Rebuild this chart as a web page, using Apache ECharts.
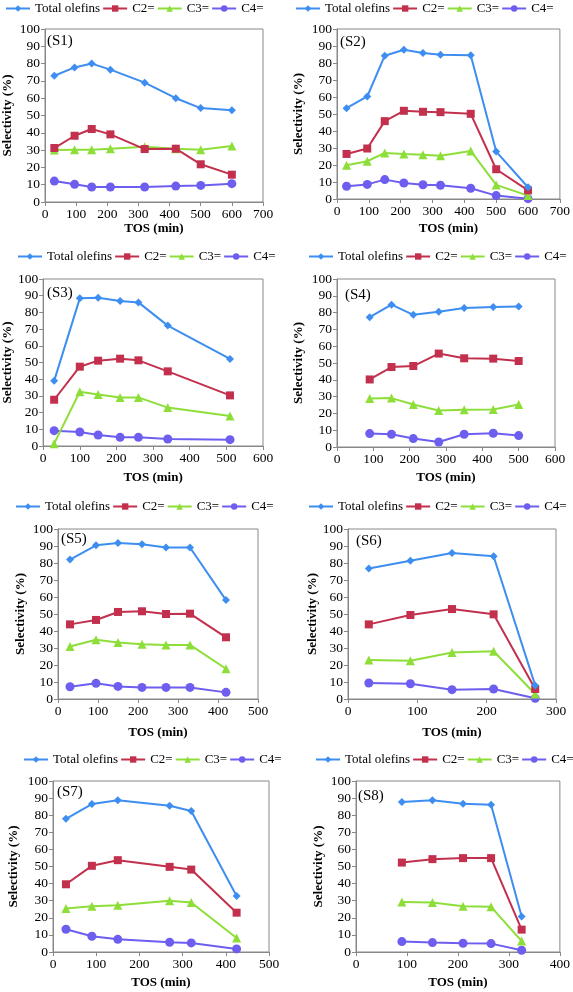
<!DOCTYPE html>
<html><head><meta charset="utf-8">
<script src="https://cdn.jsdelivr.net/npm/echarts@6/dist/echarts.min.js"></script>
<style>html,body{margin:0;padding:0;background:#fff}#c{width:573px;height:992px}</style>
</head><body><div id="c"></div>
<script>
// ---- data ----
const seriesNames = ['Total olefins', 'C2=', 'C3=', 'C4='];
const panelLabels = ['(S1)', '(S2)', '(S3)', '(S4)', '(S5)', '(S6)', '(S7)', '(S8)'];
const xAxisMax = [700, 700, 600, 600, 500, 300, 500, 400];
const yAxisMax = 100;

const S1_tos = [30, 95, 150, 210, 320, 420, 500, 600];
const S1_total = [73, 77.8, 80, 76.5, 69, 60, 54.3, 53];
const S1_c2 = [31.2, 38.3, 42.2, 39.1, 30.6, 30.8, 21.8, 15.8];
const S1_c3 = [30, 30.2, 30.2, 30.8, 32, 30.8, 30.2, 32.4];
const S1_c4 = [12.1, 10.2, 8.7, 8.7, 8.7, 9.2, 9.6, 10.6];

const S2_tos = [30, 95, 150, 210, 270, 325, 420, 500, 600];
const S2_total = [53.4, 60.3, 84.3, 87.8, 85.9, 84.9, 84.5, 27.9, 6.9];
const S2_c2 = [26.5, 29.7, 45.8, 51.9, 51.3, 51.1, 50.1, 17.5, 5.1];
const S2_c3 = [19.8, 22.2, 27.1, 26.5, 26.1, 25.5, 28.3, 8.3, 2];
const S2_c4 = [7.5, 8.6, 11.4, 9.4, 8.4, 8.1, 6.3, 2, 0.2];

const S3_tos = [30, 100, 150, 210, 260, 340, 510];
const S3_total = [39, 88.4, 88.8, 86.8, 86, 72.1, 52.1];
const S3_c2 = [27.7, 47.5, 51.1, 52.3, 51.3, 44.7, 30.3];
const S3_c3 = [1.4, 32.5, 30.9, 29.1, 29.1, 23, 18];
const S3_c4 = [9.2, 8.4, 6.6, 5.2, 5.2, 4.2, 3.8];

const S4_tos = [90, 150, 210, 280, 350, 430, 500];
const S4_total = [77.3, 84.7, 78.7, 80.5, 82.7, 83.3, 83.7];
const S4_c2 = [40.2, 47.6, 48.2, 55.6, 52.8, 52.6, 51.2];
const S4_c3 = [28.9, 29.1, 25.3, 21.7, 22.1, 22.3, 25.3];
const S4_c4 = [8, 7.6, 5, 3, 7.6, 8.2, 6.8];

const S5_tos = [30, 95, 150, 210, 270, 330, 420];
const S5_total = [82, 90.4, 91.8, 91, 89.1, 89.1, 58.2];
const S5_c2 = [43.9, 46.5, 51.2, 51.6, 50, 50.2, 36.3];
const S5_c3 = [30.9, 34.8, 33.2, 32.2, 31.8, 31.8, 17.8];
const S5_c4 = [7.2, 9.2, 7.4, 6.8, 6.8, 6.8, 3.9];

const S6_tos = [30, 90, 150, 210, 270];
const S6_total = [76.8, 81.3, 85.9, 84, 8];
const S6_c2 = [43.9, 49.4, 52.9, 49.8, 5.9];
const S6_c3 = [23, 22.5, 27.3, 28.1, 2.9];
const S6_c4 = [9.4, 9, 5.5, 5.9, 0.4];

const S7_tos = [30, 90, 150, 270, 320, 425];
const S7_total = [77.9, 86.5, 88.7, 85.5, 82.4, 32.8];
const S7_c2 = [39.6, 50.4, 53.7, 49.8, 48.2, 23];
const S7_c3 = [25.4, 26.8, 27.3, 29.9, 28.9, 8.2];
const S7_c4 = [13.3, 9.2, 7.4, 5.7, 5.3, 1.8];

const S8_tos = [90, 150, 210, 265, 325];
const S8_total = [87.7, 88.7, 86.7, 86.1, 20.7];
const S8_c2 = [52.3, 54.3, 54.9, 54.9, 13.1];
const S8_c3 = [29.3, 28.9, 26.8, 26.4, 6.4];
const S8_c4 = [6.1, 5.5, 5.1, 4.9, 1];

const panels = [
  [S1_tos, S1_total, S1_c2, S1_c3, S1_c4],
  [S2_tos, S2_total, S2_c2, S2_c3, S2_c4],
  [S3_tos, S3_total, S3_c2, S3_c3, S3_c4],
  [S4_tos, S4_total, S4_c2, S4_c3, S4_c4],
  [S5_tos, S5_total, S5_c2, S5_c3, S5_c4],
  [S6_tos, S6_total, S6_c2, S6_c3, S6_c4],
  [S7_tos, S7_total, S7_c2, S7_c3, S7_c4],
  [S8_tos, S8_total, S8_c2, S8_c3, S8_c4]
];

// ---- layout & style ----
// grid: [left, top, right edge, bottom edge]
const gridBoxes = [
  [45, 29, 263, 202], [337, 29, 564, 199],
  [43, 279, 263, 446], [337, 279, 555, 447],
  [58, 529, 258, 699], [348, 529, 556, 699],
  [53, 781, 269, 952], [356, 781, 563, 952]
];
const legendPos = [[5, 0], [295, 0], [17, 248], [308, 248], [15, 498], [308, 498], [23, 751], [315, 751]];
const labelPos = [[47, 34], [340, 35], [47, 286], [345, 288], [61, 532], [356, 534], [57, 785], [358, 789]];
const yNameGap = [31, 32, 29, 32, 31, 28, 33, 31];
const xNameGap = [20, 23, 25, 24, 27, 27, 24, 24];
const colors = ['#3d8ef0', '#c2304d', '#8ede3a', '#6d5ef0'];
const symbols = ['diamond', 'rect', 'triangle', 'circle'];
const symbolSizes = [8, 8, 9, 9];
const FONT = '"Liberation Serif", "Times New Roman", serif';
const axisGray = '#888888';

const option = {
  animation: false,
  backgroundColor: '#ffffff',
  textStyle: { fontFamily: FONT },
  title: [], legend: [], grid: [], xAxis: [], yAxis: [], series: []
};

panels.forEach((p, i) => {
  const [l, t, r, b] = gridBoxes[i];
  option.grid.push({
    left: l, top: t, width: r - l, height: b - t,
    show: true, borderColor: axisGray, borderWidth: 1, backgroundColor: 'transparent'
  });
  option.title.push({
    text: panelLabels[i], left: labelPos[i][0], top: labelPos[i][1],
    textStyle: { fontFamily: FONT, fontSize: 15, fontWeight: 'normal', color: '#000' }, padding: 0
  });
  option.legend.push({
    data: seriesNames, left: legendPos[i][0], top: legendPos[i][1],
    width: 300, orient: 'horizontal',
    itemWidth: 24, itemHeight: 8, itemGap: 2, padding: [2, 0, 2, 0],
    textStyle: { fontFamily: FONT, fontSize: 13, color: '#000' },
    selectedMode: false
  });
  option.xAxis.push({
    type: 'value', gridIndex: i, min: 0, max: xAxisMax[i], interval: 100,
    name: 'TOS (min)', nameLocation: 'middle', nameGap: xNameGap[i],
    nameTextStyle: { fontFamily: FONT, fontSize: 13, fontWeight: 'bold', color: '#000' },
    axisLine: { show: true, lineStyle: { color: axisGray } },
    axisTick: { show: true, inside: false, length: 4, lineStyle: { color: axisGray } },
    axisLabel: { fontFamily: FONT, fontSize: 13.5, color: '#000', margin: 5 },
    splitLine: { show: false }
  });
  option.yAxis.push({
    type: 'value', gridIndex: i, min: 0, max: yAxisMax, interval: 10,
    name: 'Selectivity (%)', nameLocation: 'middle', nameGap: yNameGap[i], nameRotate: 90,
    nameTextStyle: { fontFamily: FONT, fontSize: 13, fontWeight: 'bold', color: '#000' },
    axisLine: { show: true, lineStyle: { color: axisGray } },
    axisTick: { show: true, inside: false, length: 4, lineStyle: { color: axisGray } },
    axisLabel: { fontFamily: FONT, fontSize: 13.5, color: '#000', margin: 5 },
    splitLine: { show: false }
  });
  const tos = p[0];
  for (let s = 0; s < 4; s++) {
    const vals = p[s + 1];
    option.series.push({
      type: 'line', name: seriesNames[s], xAxisIndex: i, yAxisIndex: i,
      data: tos.map((x, k) => [x, vals[k]]),
      symbol: symbols[s], symbolSize: symbolSizes[s], showSymbol: true,
      lineStyle: { color: colors[s], width: 2 },
      itemStyle: { color: colors[s] },
      z: 10 - s
    });
  }
});

const chart = echarts.init(document.getElementById('c'), null, { renderer: 'canvas' });
chart.setOption(option);
</script>
</body></html>
